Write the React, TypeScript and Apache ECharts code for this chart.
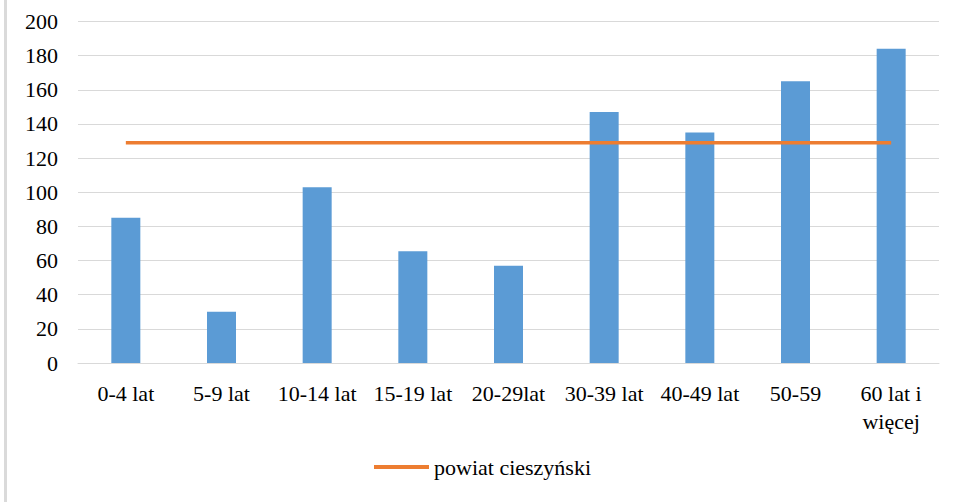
import React, { useEffect, useRef } from "react";
import * as echarts from "echarts";

const categories = ["0-4 lat", "5-9 lat", "10-14 lat", "15-19 lat", "20-29lat", "30-39 lat", "40-49 lat", "50-59", "60 lat i\nwięcej"];
const barValues = [85, 30, 103, 65.5, 57, 147, 135, 165, 184];
const lineValues = [129, 129, 129, 129, 129, 129, 129, 129, 129];
const lineName = "powiat cieszyński";

export default function App() {
  const ref = useRef<HTMLDivElement>(null);
  useEffect(() => {
    const chart = echarts.init(ref.current!, null, { renderer: "svg" });
    const font = "Liberation Serif";
    chart.setOption({
      animation: false,
      backgroundColor: "#ffffff",
      textStyle: { fontFamily: font },
      grid: { left: 78, right: 15, top: 21.5, bottom: 139, containLabel: false },
      legend: {
        data: [{ name: lineName, icon: "rect" }],
        bottom: 19,
        left: 369,
        itemWidth: 55,
        itemHeight: 4,
        itemGap: 4,
        textStyle: { fontFamily: font, fontSize: 22, color: "#000" },
      },
      xAxis: {
        type: "category",
        data: categories,
        boundaryGap: true,
        axisLine: { lineStyle: { color: "#d9d9d9", width: 1 } },
        axisTick: { show: false },
        axisLabel: { color: "#000", fontFamily: font, fontSize: 22, margin: 16, lineHeight: 28, interval: 0 },
      },
      yAxis: {
        type: "value",
        min: 0,
        max: 200,
        interval: 20,
        axisLine: { show: false },
        axisTick: { show: false },
        splitLine: { lineStyle: { color: "#d9d9d9", width: 1 } },
        axisLabel: { color: "#000", fontFamily: font, fontSize: 22, margin: 20 },
      },
      graphic: [
        { type: "rect", shape: { x: 4, y: 0, width: 3, height: 502 }, style: { fill: "#dadada" }, z: 0 },
      ],
      series: [
        {
          type: "bar",
          data: barValues,
          barWidth: 29,
          itemStyle: { color: "#5b9bd5" },
          silent: true,
        },
        {
          name: lineName,
          type: "line",
          data: lineValues,
          symbol: "none",
          lineStyle: { color: "#ed7d31", width: 3.5 },
          itemStyle: { color: "#ed7d31" },
          z: 3,
        },
      ],
    });
    return () => chart.dispose();
  }, []);
  return <div ref={ref} style={{ position: "absolute", left: 0, top: 0, width: 954, height: 502 }} />;
}
